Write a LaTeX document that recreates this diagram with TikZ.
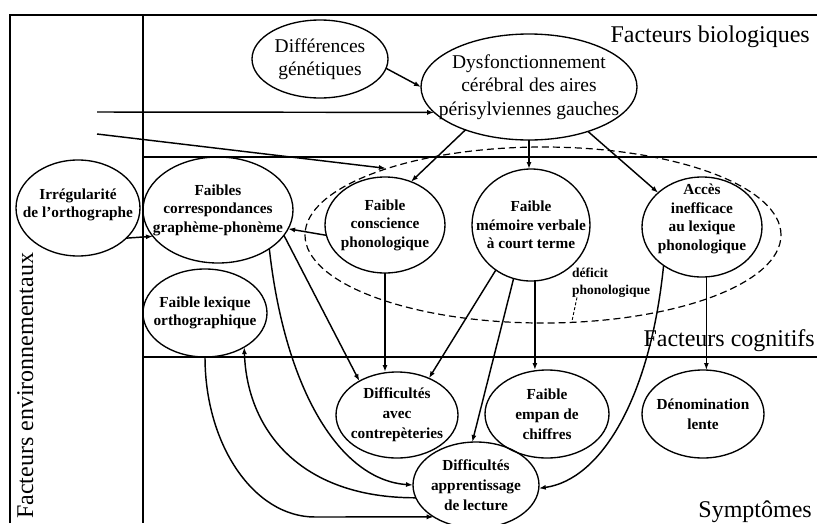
\documentclass[tikz,border=0pt]{standalone}
\usepackage{fontspec}
\setmainfont{Liberation Serif}
\usetikzlibrary{shapes.geometric,arrows.meta}
\begin{document}
\begin{tikzpicture}[x=1pt,y=-1pt,
  ell/.style={draw, ellipse, inner sep=0pt, outer sep=0pt, line width=1.35pt},
  big/.style={font=\fontsize{19.5}{23.5}\selectfont, align=center},
  sm/.style={font=\bfseries\fontsize{15.3}{18.5}\selectfont, align=center},
  smb/.style={font=\bfseries\fontsize{15.3}{20}\selectfont, align=center},
  zone/.style={font=\fontsize{24}{28}\selectfont, inner sep=0pt},
  arr/.style={line width=1.45pt, -{Latex[length=7pt,width=5pt]}},
  framel/.style={line width=1.2pt},
]
\useasboundingbox (0,0) rectangle (817,523);

% frame
\draw[framel] (10,523) -- (10,15) -- (817,15);
\draw[framel] (143,15) -- (143,523);
\draw[framel] (143,157) -- (817,157);
\draw[framel] (143,357) -- (817,357);

% zone labels
\node[zone, anchor=base east] (bio) at (810,42) {Facteurs biologiques};
\node[zone, anchor=base east] (cog) at (815,346) {Facteurs cognitifs};
\node[zone, anchor=base east] (sym) at (812,517) {Symptômes};
\node[zone, anchor=base west, rotate=90] (env) at (33,519) {Facteurs environnementaux};

% nodes
\node[ell, minimum width=136pt, minimum height=78pt,
  label={[big]center:{Différences\\génétiques}}] (gen) at (320,59) {};
\node[ell, minimum width=216pt, minimum height=106pt,
  label={[big]center:{Dysfonctionnement\\cérébral des aires\\périsylviennes gauches}}] (dys) at (529,87) {};
\node[ell, minimum width=124pt, minimum height=96pt,
  label={[sm,yshift=3pt]center:{Irrégularité\\de l’orthographe}}] (irr) at (78,208) {};
\node[ell, minimum width=150pt, minimum height=106pt,
  label={[sm]center:{Faibles\\correspondances\\graphème-phonème}}] (fc) at (218,210) {};
\node[ell, minimum width=120pt, minimum height=96pt,
  label={[sm]center:{Faible\\conscience\\phonologique}}] (cons) at (385,225) {};
\node[ell, minimum width=118pt, minimum height=112pt,
  label={[sm]center:{Faible\\mémoire verbale\\à court terme}}] (mem) at (531,225) {};
\node[ell, minimum width=120pt, minimum height=100pt,
  label={[sm,yshift=8pt]center:{Accès\\inefficace\\au lexique\\phonologique}}] (acc) at (702,227) {};
\node[ell, minimum width=124pt, minimum height=88pt,
  label={[sm]center:{Faible lexique\\orthographique}}] (lex) at (205,313) {};
\node[ell, minimum width=122pt, minimum height=86pt,
  label={[smb]center:{Difficultés\\avec\\contrepèteries}}] (dc) at (397,415) {};
\node[ell, minimum width=124pt, minimum height=88pt,
  label={[smb]center:{Faible\\empan de\\chiffres}}] (emp) at (547,414) {};
\node[ell, minimum width=122pt, minimum height=88pt,
  label={[smb]center:{Dénomination\\lente}}] (den) at (703,414) {};
\node[ell, minimum width=126pt, minimum height=86pt,
  label={[smb]center:{Difficultés\\apprentissage\\de lecture}}] (da) at (476,485) {};

% phonological deficit
\node[draw, ellipse, inner sep=0pt, line width=1.2pt, dash pattern=on 7pt off 4pt,
  minimum width=476pt, minimum height=176pt] (ph) at (543,235) {};
\node[font=\bfseries\fontsize{13.5}{16.5}\selectfont, align=left, anchor=north west, inner sep=0pt]
  (phl) at (572,268) {déficit\\phonologique};
\draw[line width=0.9pt, dash pattern=on 3pt off 2pt] ([xshift=5pt]phl.south west) -- (ph.-72);

% free ends
\coordinate (c1) at (97,112);
\coordinate (c2) at (97,134);

% connectors
\draw[arr] (gen.-8) -- (dys.180);
\draw[arr] (c1) -- (dys.195);
\draw[arr] (c2) -- (ph.157);
\draw[arr] (dys.214) -- (cons.59);
\draw[arr] (dys.south) -- (dys.south |- mem.north);
\draw[arr] (dys.-37) -- (acc.142);
\draw[arr] (irr.-32) -- (fc.202);
\draw[arr] (cons.190) -- (fc.-15);
\draw[arr] (fc.-21) -- (dc.138);
\draw[arr] (cons.south) -- (cons.south |- dc.north);
\draw[arr] (mem.232) -- (dc.49);
\draw[arr] (mem.252) -- (da.95);
\draw[arr] (mem.-86) -- (mem.-86 |- emp.north);
\draw[arr] (acc.-85) -- (acc.-85 |- den.north);
\draw[arr] (acc.225) .. controls (650,400) and (600,480) .. (da.-3);
\draw[arr] (fc.-37) .. controls (285,390) and (340,480) .. (da.west);
\draw[arr] (da.192) .. controls (300,498) and (247,430) .. (lex.-41);
\draw[arr] (lex.south) .. controls (205,445) and (254,517) .. (315,517) -- (da.217);
\end{tikzpicture}
\end{document}
